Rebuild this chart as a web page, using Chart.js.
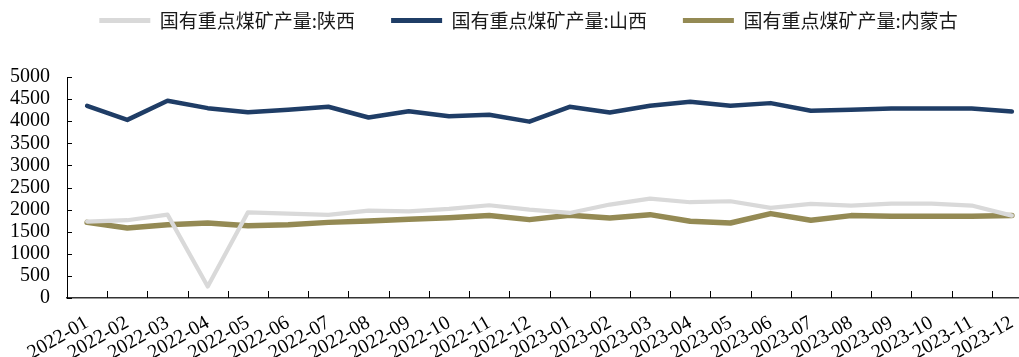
<!DOCTYPE html>
<html><head><meta charset="utf-8">
<script src="https://cdn.jsdelivr.net/npm/chart.js@4.4.1/dist/chart.umd.min.js"></script>
<style>html,body{margin:0;padding:0;overflow:hidden;background:#fff;width:1019px;height:357px}canvas{display:block}</style>
</head><body>
<canvas id="c" width="1057" height="357" style="width:1057px;height:357px"></canvas>
<script>
const categories = ['2022-01','2022-02','2022-03','2022-04','2022-05','2022-06','2022-07','2022-08','2022-09','2022-10','2022-11','2022-12',
  '2023-01','2023-02','2023-03','2023-04','2023-05','2023-06','2023-07','2023-08','2023-09','2023-10','2023-11','2023-12'];
const seriesNames = ['国有重点煤矿产量:陕西','国有重点煤矿产量:山西','国有重点煤矿产量:内蒙古'];
const shaanxi = [1730,1760,1886,260,1939,1909,1879,1977,1962,2015,2098,2000,1924,2114,2250,2167,2189,2038,2129,2091,2136,2136,2091,1864];
const shanxi = [4348,4030,4462,4295,4200,4258,4326,4083,4227,4113,4144,3990,4326,4197,4348,4439,4348,4409,4235,4258,4288,4288,4288,4220];
const neimenggu = [1711,1583,1659,1697,1636,1659,1711,1742,1780,1818,1864,1773,1871,1811,1886,1735,1697,1909,1758,1864,1848,1848,1848,1864];
const yMin = 0, yMax = 5000, yStep = 500;

const colors = ['#D9D9D9','#1F3D66','#948A54'];
const widths = [4.2,4.5,5.5];

const innerTicks = {
  id: 'innerTicks',
  beforeDatasetsDraw(chart) {
    const {ctx, scales: {x, y}} = chart;
    ctx.save();
    ctx.strokeStyle = '#000';
    ctx.lineWidth = 1;
    y.ticks.forEach((t, i) => {
      const py = Math.round(y.getPixelForTick(i)) + 0.5;
      ctx.beginPath(); ctx.moveTo(x.left, py); ctx.lineTo(x.left + 5, py); ctx.stroke();
    });
    for (let i = 1; i < categories.length; i++) {
      const px = Math.round((x.getPixelForValue(i - 1) + x.getPixelForValue(i)) / 2) + 0.5;
      ctx.beginPath(); ctx.moveTo(px, y.bottom); ctx.lineTo(px, y.bottom - 7); ctx.stroke();
    }
    ctx.restore();
  }
};

const data = [shaanxi, shanxi, neimenggu];
new Chart(document.getElementById('c'), {
  type: 'line',
  data: {
    labels: categories,
    datasets: data.map((d, i) => ({
      label: seriesNames[i], data: d,
      borderColor: colors[i], backgroundColor: colors[i],
      borderWidth: widths[i], pointRadius: 0, tension: 0, fill: false,
      borderJoinStyle: 'round', borderCapStyle: 'round'
    }))
  },
  options: {
    responsive: false, animation: false, devicePixelRatio: 1,
    layout: { padding: { top: -25, left: 0, right: 0, bottom: 0 } },
    plugins: {
      tooltip: { enabled: false },
      legend: {
        position: 'top',
        labels: {
          boxWidth: 51, boxHeight: 5, padding: 36, color: '#1a1a1a',
          useBorderRadius: true, borderRadius: 2.5,
          font: { family: '"Noto Sans CJK SC", sans-serif', size: 19 },
          generateLabels(chart) {
            return chart.data.datasets.map((ds, i) => ({
              text: ds.label, fillStyle: ds.borderColor, strokeStyle: ds.borderColor,
              lineWidth: 0, hidden: false, datasetIndex: i, fontColor: '#1a1a1a'
            }));
          }
        }
      }
    },
    scales: {
      x: {
        type: 'category', offset: true,
        grid: { display: true, drawOnChartArea: false, drawTicks: false },
        border: { display: true, color: '#333', width: 1.5 },
        ticks: { autoSkip: false, minRotation: 30, maxRotation: 30, padding: 13, color: '#000',
          font: { family: '"Liberation Serif", "Times New Roman", serif', size: 20 } },
        afterFit(s) { s.height = 59; }
      },
      xTopSpacer: {
        type: 'linear', position: 'top', display: true,
        grid: { display: false }, border: { display: false },
        ticks: { display: false },
        afterFit(s) { s.height = 37; }
      },
      y: {
        min: yMin, max: yMax,
        grid: { display: true, drawOnChartArea: false, drawTicks: false },
        border: { display: true, color: '#000', width: 1 },
        ticks: { stepSize: yStep, autoSkip: false, padding: 17, color: '#000',
          callback: (v) => String(v),
          font: { family: '"Liberation Serif", "Times New Roman", serif', size: 20 } },
        afterFit(s) { s.width = 67; }
      },
      y2: {
        position: 'right', display: true,
        grid: { display: false }, border: { display: false },
        ticks: { display: false },
        afterFit(s) { s.width = 25; }
      }
    }
  },
  plugins: [innerTicks]
});
</script>
</body></html>
